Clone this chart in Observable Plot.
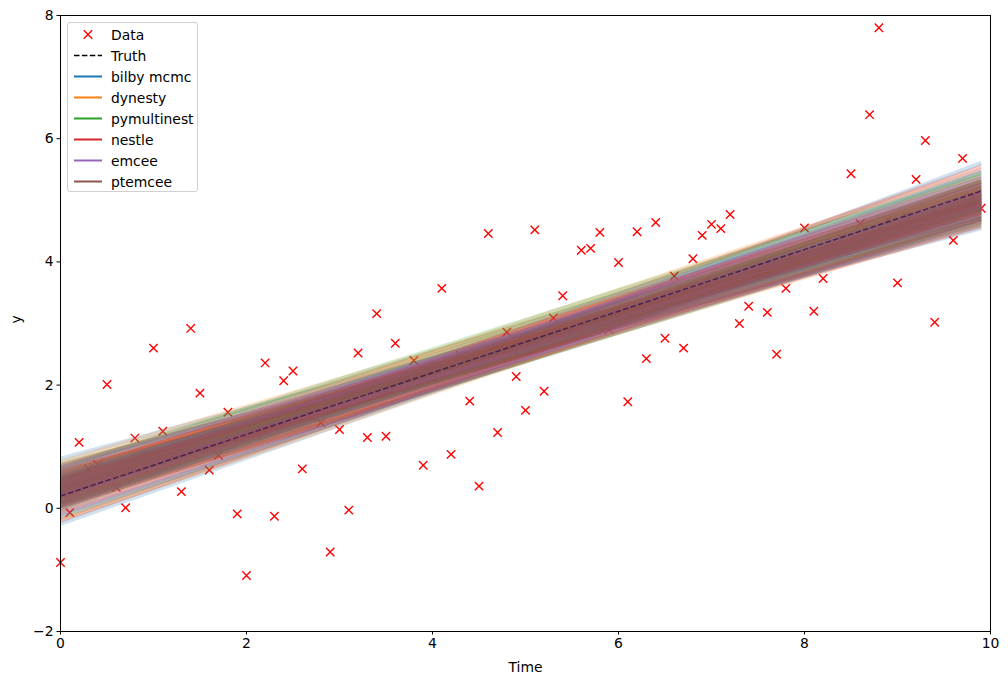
<!DOCTYPE html>
<html>
<head>
<meta charset="utf-8">
<script src="https://cdn.jsdelivr.net/npm/d3@7"></script>
<script src="https://cdn.jsdelivr.net/npm/@observablehq/plot@0.6"></script>
<style>
  html, body { margin: 0; padding: 0; background: #fff; }
  #wrap { position: relative; width: 1008px; height: 684px; font-family: "DejaVu Sans", sans-serif; }
  #legend {
    position: absolute; left: 67px; top: 22px; width: 131px; height: 170px;
    border: 1px solid #d0d0d0; border-radius: 3px; background: rgba(255,255,255,0.85);
    font-size: 13.9px; color: #000; box-sizing: border-box;
  }
  .row { position: absolute; left: 0; height: 21px; width: 100%; }
  .row .lab { position: absolute; left: 43px; top: 50%; transform: translateY(-50%); white-space: nowrap; }
  .row svg { position: absolute; left: 5px; top: 0; }
</style>
</head>
<body>
<div id="wrap"><div id="chart"></div><div id="legend"></div></div>
<script>
// ---- data ----
const time = [0.0,0.1,0.2,0.3,0.4,0.5,0.6,0.7,0.8,0.9,1.0,1.1,1.2,1.3,1.4,1.5,1.6,1.7,1.8,1.9,
  2.0,2.1,2.2,2.3,2.4,2.5,2.6,2.7,2.8,2.9,3.0,3.1,3.2,3.3,3.4,3.5,3.6,3.7,3.8,3.9,
  4.0,4.1,4.2,4.3,4.4,4.5,4.6,4.7,4.8,4.9,5.0,5.1,5.2,5.3,5.4,5.5,5.6,5.7,5.8,5.9,
  6.0,6.1,6.2,6.3,6.4,6.5,6.6,6.7,6.8,6.9,7.0,7.1,7.2,7.3,7.4,7.5,7.6,7.7,7.8,7.9,
  8.0,8.1,8.2,8.3,8.4,8.5,8.6,8.7,8.8,8.9,9.0,9.1,9.2,9.3,9.4,9.5,9.6,9.7,9.8,9.9];
const yData = [-0.88,-0.07,1.07,0.64,0.71,2.01,0.34,0.01,1.14,0.66,2.60,1.25,0.86,0.27,2.92,1.87,0.62,0.86,1.56,-0.09,
  -1.09,1.21,2.36,-0.13,2.07,2.23,0.64,1.48,1.39,-0.71,1.28,-0.03,2.52,1.15,3.16,1.17,2.68,2.05,2.40,0.70,
  2.11,3.57,0.875,2.48,1.74,0.36,4.46,1.23,2.86,2.14,1.59,4.52,1.90,3.09,3.45,2.86,4.19,4.22,4.48,2.90,
  3.99,1.73,4.49,2.43,4.64,2.76,3.77,2.60,4.05,4.43,4.61,4.54,4.77,3.00,3.28,3.80,3.18,2.50,3.57,4.02,
  4.55,3.20,3.73,4.31,4.38,5.43,4.62,6.39,7.80,4.68,3.66,4.74,5.34,5.97,3.02,4.80,4.35,5.68,5.05,4.87];
const truthIntercept = 0.2;
const truthSlope = 0.5;

const samplers = ["bilby mcmc","dynesty","pymultinest","nestle","emcee","ptemcee"];

const bilbyC = [0.30,0.05,0.55,0.18,0.42,-0.10,0.65,0.25,0.38,0.10,0.48,0.00,0.60,0.28,0.33,0.20,0.45,0.08,0.52,0.35,0.15,-0.25,0.80,0.26];
const bilbyM = [0.470,0.520,0.424,0.532,0.422,0.500,0.470,0.449,0.482,0.485,0.462,0.566,0.399,0.477,0.452,0.510,0.495,0.462,0.447,0.480,0.485,0.535,0.409,0.467];
const dynestyC = [0.22,0.40,0.12,0.58,-0.05,0.31,0.47,0.02,0.68,0.27,0.36,0.16,0.53,0.09,0.43,0.24,-0.18,0.61,0.34,0.19,0.50,0.29,0.75,0.06];
const dynestyM = [0.488,0.444,0.523,0.441,0.510,0.514,0.422,0.478,0.452,0.468,0.489,0.449,0.502,0.506,0.446,0.479,0.513,0.413,0.476,0.511,0.455,0.454,0.449,0.484];
const pymultinestC = [0.35,0.14,0.57,-0.02,0.41,0.23,0.66,0.04,0.31,0.49,0.18,0.72,0.27,0.11,0.44,-0.15,0.38,0.21,0.54,0.30,0.07,0.46,0.25,0.62];
const pymultinestM = [0.462,0.509,0.417,0.539,0.472,0.465,0.479,0.469,0.474,0.443,0.499,0.394,0.500,0.489,0.436,0.522,0.495,0.469,0.448,0.481,0.488,0.504,0.452,0.453];
const nestleC = [0.26,0.47,0.09,0.39,0.63,-0.08,0.32,0.17,0.55,0.01,0.44,0.28,0.70,0.13,0.36,0.22,0.50,-0.20,0.41,0.24,0.59,0.04,0.34,0.19];
const nestleM = [0.479,0.439,0.511,0.501,0.415,0.509,0.438,0.496,0.475,0.494,0.459,0.532,0.414,0.496,0.426,0.503,0.447,0.535,0.476,0.467,0.444,0.471,0.501,0.480];
const emceeC = [0.29,0.11,0.52,0.37,-0.03,0.64,0.20,0.43,0.06,0.31,0.57,0.16,0.40,-0.12,0.24,0.48,0.33,0.68,0.03,0.27,0.45,0.14,0.38,0.21];
const emceeM = [0.473,0.504,0.430,0.496,0.490,0.445,0.448,0.480,0.489,0.512,0.419,0.491,0.453,0.512,0.495,0.481,0.447,0.428,0.508,0.462,0.460,0.539,0.435,0.496];
const ptemceeC = [0.31,0.22,0.40,0.15,0.48,0.27,0.36,0.10,0.19,0.44,0.33,0.52,0.25,0.38,0.08,0.29,0.46,0.17,0.35,0.05,0.42,0.13,0.30,0.50];
const ptemceeM = [0.473,0.493,0.451,0.492,0.475,0.458,0.477,0.487,0.511,0.456,0.456,0.457,0.449,0.481,0.494,0.506,0.447,0.494,0.470,0.493,0.483,0.474,0.476,0.430];

const xTicks = [0, 2, 4, 6, 8, 10];
const yTicks = [-2, 0, 2, 4, 6, 8];

// ---- styles ----
const samplerColors = ["#1f77b4","#ff7f0e","#2ca02c","#d62728","#9467bd","#8c564b"];

// ---- build tables ----
const points = time.map((t, i) => ({t, y: yData[i]}));
const t0 = time[0], t1 = time[time.length - 1];
const posterior = [[bilbyC,bilbyM],[dynestyC,dynestyM],[pymultinestC,pymultinestM],[nestleC,nestleM],[emceeC,emceeM],[ptemceeC,ptemceeM]];
const samples = [];
posterior.forEach(([C, M], s) => C.forEach((c, i) => samples.push({
  sampler: samplers[s], x1: t0, y1: c + M[i] * t0, x2: t1, y2: c + M[i] * t1
})));
const truth = [{x1: t0, y1: truthIntercept + truthSlope * t0, x2: t1, y2: truthIntercept + truthSlope * t1}];

const chart = Plot.plot({
  width: 1008, height: 684,
  marginLeft: 60, marginRight: 18, marginTop: 15, marginBottom: 53,
  style: {fontFamily: "DejaVu Sans, sans-serif", fontSize: "13.9px", color: "#000", background: "#fff"},
  x: {domain: [0, 10]},
  y: {domain: [-2, 8]},
  color: {domain: samplers, range: samplerColors},
  marks: [
    Plot.dot(points, {x: "t", y: "y", symbol: "times", r: 3.9, stroke: "#ff0000", strokeWidth: 1.4}),
    Plot.link(samples, {x1: "x1", y1: "y1", x2: "x2", y2: "y2", stroke: "sampler", strokeOpacity: 0.21, strokeWidth: 4.5}),
    Plot.link(truth, {x1: "x1", y1: "y1", x2: "x2", y2: "y2", stroke: "#4a2350", strokeWidth: 1.5, strokeDasharray: "5.5,2.4"}),
    Plot.frame({stroke: "#000", strokeWidth: 1}),
    Plot.axisX(xTicks, {tickSize: 3.5, tickPadding: 3.5, label: null, stroke: "#000", tickFormat: d3.format("d")}),
    Plot.axisY(yTicks, {tickSize: 3.5, tickPadding: 3.5, label: null, stroke: "#000", tickFormat: d3.format("d")}),
    Plot.text(["Time"], {frameAnchor: "bottom", dy: 36, lineAnchor: "middle", fill: "#000"}),
    Plot.text(["y"], {frameAnchor: "left", dx: -44, rotate: -90, lineAnchor: "middle", fill: "#000"})
  ]
});
document.getElementById("chart").appendChild(chart);

// ---- legend ----
const legendEntries = [{label: "Data", kind: "marker"}, {label: "Truth", kind: "dash"}]
  .concat(samplers.map((s, i) => ({label: s, kind: "line", color: samplerColors[i]})));
const legend = document.getElementById("legend");
legendEntries.forEach((e, i) => {
  const row = document.createElement("div");
  row.className = "row";
  row.style.top = (1 + i * 21) + "px";
  let glyph;
  if (e.kind === "marker") glyph = '<path d="M10.8,6.3 L19.2,14.7 M19.2,6.3 L10.8,14.7" stroke="#ff0000" stroke-width="1.4"/>';
  else if (e.kind === "dash") glyph = '<line x1="1" x2="29" y1="10.5" y2="10.5" stroke="#000" stroke-width="1.5" stroke-dasharray="5.5,2.4"/>';
  else glyph = `<line x1="1" x2="29" y1="10.5" y2="10.5" stroke="${e.color}" stroke-width="2"/>`;
  row.innerHTML = `<svg width="30" height="21">${glyph}</svg><span class="lab">${e.label}</span>`;
  legend.appendChild(row);
});
</script>
</body>
</html>
